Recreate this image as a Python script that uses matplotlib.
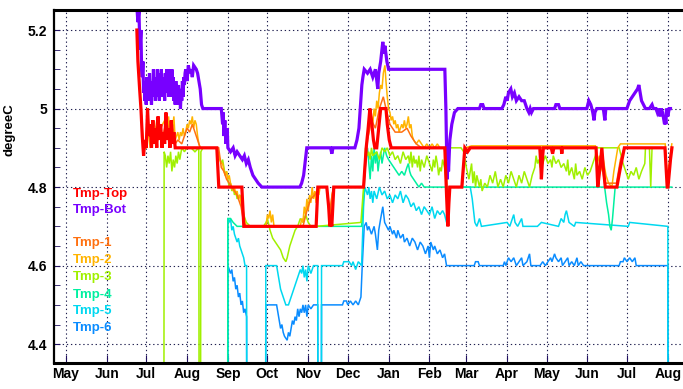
import pandas as pd
import matplotlib.pyplot as plt
import matplotlib.dates as mdates
from matplotlib.ticker import MultipleLocator

plt.rcParams['font.family'] = ['Liberation Sans', 'DejaVu Sans']
plt.rcParams['font.weight'] = 'bold'

start = pd.Timestamp('2008-05-01')

# Tage seit 2008-05-01 und Werte (degreeC)
bot_days = [53.9, 54.7, 55.5, 56.2, 57, 57.5, 58, 58.5, 59, 59.5,
            60, 60.5, 61, 61.5, 62, 62.5, 63, 63.5, 64, 64.5,
            65, 65.5, 66, 66.5, 67, 67.5, 68, 68.5, 69, 69.5,
            70, 70.5, 71, 71.5, 72, 72.5, 73, 73.5, 74, 74.5,
            75, 75.5, 76, 76.5, 77, 77.5, 78, 78.5, 79, 79.5,
            80, 80.5, 81, 81.5, 82, 82.5, 83, 83.5, 84, 84.5,
            85, 85.5, 86, 86.5, 87, 87.5, 88, 88.5, 89, 89.5,
            90, 90.5, 91, 92, 93, 94, 95, 96, 97, 99,
            100, 101, 102, 103, 104, 118, 119, 119.5, 120, 120.7,
            121.5, 122.5, 123, 125, 127, 128.5, 130, 132, 134, 135.5,
            137, 138.5, 140, 142, 144, 146, 148.8, 177.6, 179, 180.5,
            181.5, 182.9, 201, 201.9, 202.8, 219.4, 221, 222.5, 223.5, 224.7,
            225.5, 226.5, 229, 231, 233, 235, 236.8, 237.5, 239, 240,
            240.6, 241.5, 242.2, 243.7, 245, 287.7, 288.5, 289.2, 289.6, 290,
            290.5, 291.5, 293, 295, 297.6, 314, 315, 316.5, 317.5, 331,
            332.5, 334, 335, 336, 337.8, 339, 340.5, 342, 344, 346,
            348, 350, 351.5, 352.5, 353.5, 355, 371, 372, 374, 375,
            395.5, 397, 398.5, 399.3, 400, 401, 401.6, 403, 408, 409.2,
            409.9, 425.9, 428, 430, 432, 434, 435, 436, 437, 438.5,
            440, 443, 445, 446, 448, 449, 450, 451, 452, 453,
            454, 454.5, 455, 455.5, 456, 457, 458, 459]
bot_vals = [5.26, 5.22, 5.25, 5.15, 5.20, 5.10, 5.08, 5.12, 5.04, 5.07,
            5.02, 5.06, 5.01, 5.08, 5.03, 5.05, 5.02, 5.09, 5.03, 5.06,
            5.01, 5.07, 5.03, 5.10, 5.04, 5.08, 5.02, 5.06, 5.03, 5.10,
            5.04, 5.07, 5.02, 5.09, 5.05, 5.10, 5.03, 5.08, 5.04, 5.06,
            5.02, 5.09, 5.04, 5.10, 5.05, 5.08, 5.03, 5.10, 5.04, 5.07,
            5.03, 5.10, 5.05, 5.08, 5.02, 5.06, 5.01, 5.07, 5.03, 5.05,
            5.01, 5.06, 5.02, 5.05, 5.00, 5.04, 5.02, 5.07, 5.03, 5.08,
            5.06, 5.09, 5.10, 5.07, 5.11, 5.09, 5.10, 5.08, 5.11, 5.10,
            5.09, 5.07, 5.05, 5.01, 5.00, 5.00, 4.96, 4.99, 4.93, 4.97,
            4.91, 4.95, 4.90, 4.89, 4.90, 4.88, 4.89, 4.88, 4.87, 4.88,
            4.86, 4.87, 4.85, 4.83, 4.82, 4.81, 4.80, 4.80, 4.81, 4.83,
            4.86, 4.90, 4.90, 4.885, 4.90, 4.90, 4.92, 4.95, 5.00, 5.06,
            5.08, 5.10, 5.09, 5.10, 5.08, 5.10, 5.05, 5.09, 5.12, 5.15,
            5.17, 5.14, 5.16, 5.12, 5.10, 5.10, 5.00, 4.86, 4.82, 4.90,
            4.84, 4.92, 4.96, 4.99, 5.00, 5.00, 5.01, 5.01, 5.00, 5.00,
            5.01, 5.03, 5.02, 5.04, 5.05, 5.03, 5.04, 5.02, 5.03, 5.02,
            5.02, 5.00, 4.99, 5.00, 4.99, 5.00, 5.00, 5.01, 5.01, 5.00,
            5.00, 5.02, 5.01, 5.00, 4.99, 4.97, 4.99, 5.00, 5.00, 4.97,
            5.00, 5.00, 5.02, 5.03, 5.04, 5.05, 5.06, 5.04, 5.02, 5.01,
            5.00, 5.00, 5.01, 5.00, 5.00, 4.99, 5.00, 4.98, 5.00, 4.99,
            4.97, 4.96, 4.98, 4.96, 5.00, 4.98, 5.00, 5.00]

top_days = [53.9, 54.7, 56, 57, 58, 59, 60, 61, 62, 63, 64, 65, 66, 67, 68, 69, 70, 71, 72, 73, 74, 75,
            76, 77, 78, 79, 80, 81, 82, 83, 114.6, 116.1, 133.6, 135.1, 190, 191.3, 198.1, 199.5, 200.4,
            201, 201.9, 203.4, 226, 228, 229.5, 230.8, 232, 233.5, 234.6, 236, 237.5, 239, 243, 244,
            245.5, 247, 287.7, 289, 290, 290.8, 291.5, 300.6, 302.9, 305, 307, 359.8, 360.5, 361, 362,
            362.5, 368.5, 369.5, 370.5, 376, 376.5, 377, 402.5, 403.8, 405.5, 406.9, 408, 409.5, 418.3,
            421, 424, 454.8, 456.5, 457.1, 459, 460.1]
top_vals = [5.20, 5.12, 5.05, 5.00, 4.93, 4.88, 4.92, 4.90, 5.00, 4.93, 4.96, 4.90, 4.97, 4.91, 4.95,
            4.90, 4.98, 4.92, 4.96, 4.90, 4.94, 4.91, 4.99, 4.92, 4.95, 4.90, 4.97, 4.91, 4.94, 4.90,
            4.90, 4.80, 4.80, 4.70, 4.70, 4.80, 4.80, 4.75, 4.70, 4.72, 4.70, 4.80, 4.80, 4.90, 4.95,
            5.00, 4.97, 4.92, 4.90, 4.90, 4.95, 5.00, 5.00, 4.96, 4.92, 4.90, 4.90, 4.78, 4.70, 4.76,
            4.80, 4.80, 4.90, 4.89, 4.90, 4.90, 4.86, 4.82, 4.88, 4.90, 4.90, 4.885, 4.90, 4.90, 4.885,
            4.90, 4.90, 4.80, 4.85, 4.90, 4.85, 4.80, 4.80, 4.85, 4.90, 4.90, 4.80, 4.80, 4.87, 4.90]

t1_days = [53.9, 56, 58, 59, 61, 63, 65, 67, 69, 71, 73, 75, 77, 79, 81, 83, 85, 88, 90, 92, 94, 96, 98,
           100, 102, 116, 118, 120, 122, 124, 126, 130, 133, 135, 137, 180, 183, 186, 189, 192, 198, 200,
           203, 226, 229, 232, 235, 238, 241, 243, 246, 250, 255, 259, 262, 266, 270, 287.5, 289.5, 291,
           301, 303, 402.5, 404, 406, 409, 418, 421, 424, 455, 456.8, 459, 460]
t1_vals = [5.19, 5.06, 4.94, 4.89, 4.91, 4.96, 4.92, 4.97, 4.93, 4.96, 4.92, 4.95, 4.96, 4.93, 4.96,
           4.91, 4.92, 4.91, 4.93, 4.95, 4.94, 4.96, 4.94, 4.92, 4.90, 4.90, 4.85, 4.84, 4.82, 4.81, 4.80,
           4.78, 4.75, 4.71, 4.70, 4.70, 4.74, 4.77, 4.78, 4.80, 4.80, 4.73, 4.80, 4.80, 4.92, 4.97, 4.95,
           5.00, 5.03, 5.00, 4.96, 4.94, 4.94, 4.95, 4.93, 4.91, 4.90, 4.90, 4.75, 4.80, 4.80, 4.90, 4.90,
           4.82, 4.88, 4.81, 4.81, 4.87, 4.90, 4.90, 4.80, 4.88, 4.90]

t2_days = [53.9, 56, 58, 59, 61, 62, 64, 75, 76, 77, 78, 79, 80, 81, 82, 83, 84, 85, 86, 87, 88, 89, 90,
           91, 92, 93, 94, 95, 96, 97, 98, 99, 100, 101, 102, 115, 116, 117, 118, 119, 120, 121, 122,
           123, 124, 125, 126, 127, 128, 129, 130, 131, 132, 133, 134, 135, 136, 137, 152, 153, 154,
           155, 156, 157, 158, 178, 179, 180, 181, 182, 183, 184, 185, 186, 187, 188, 189, 190, 191,
           192, 193, 198, 199, 200.4, 202, 203.5, 226, 228, 229.5, 231, 232, 233, 234, 235, 236, 237,
           238, 239, 240, 241, 242.2, 243, 244, 245, 246, 247, 248, 249, 250, 251, 252, 253, 254, 255,
           256, 257, 258, 259, 260, 261, 262, 263, 264, 266, 268, 270, 272, 274, 276, 278, 280, 282,
           284, 287.5, 289, 290, 291, 292, 300.6, 303, 308, 402, 403.5, 405, 406, 408, 410, 412, 414.5,
           416, 418, 419, 421, 455, 456.5, 458, 460]
t2_vals = [5.18, 5.05, 4.95, 4.90, 4.90, 4.95, 4.90, 4.97, 4.99, 4.94, 4.98, 4.93, 4.96, 4.95, 4.98,
           4.92, 4.93, 4.94, 4.92, 4.94, 4.93, 4.95, 4.93, 4.94, 4.96, 4.95, 4.97, 4.96, 4.98, 4.95,
           4.97, 4.96, 4.93, 4.91, 4.90, 4.90, 4.88, 4.87, 4.86, 4.86, 4.84, 4.83, 4.84, 4.82, 4.83,
           4.81, 4.80, 4.79, 4.80, 4.78, 4.79, 4.77, 4.78, 4.76, 4.75, 4.73, 4.71, 4.70, 4.70, 4.73,
           4.72, 4.74, 4.71, 4.73, 4.70, 4.70, 4.72, 4.71, 4.75, 4.73, 4.77, 4.74, 4.78, 4.76, 4.80,
           4.77, 4.79, 4.76, 4.80, 4.78, 4.80, 4.80, 4.76, 4.72, 4.78, 4.80, 4.80, 4.90, 4.94, 4.97,
           4.98, 4.96, 5.00, 4.98, 5.02, 5.00, 5.04, 5.06, 5.05, 5.09, 5.11, 5.07, 5.03, 5.00, 4.99,
           4.97, 4.98, 4.96, 4.97, 4.95, 4.96, 4.94, 4.95, 4.96, 4.95, 4.97, 4.95, 4.96, 4.98, 4.95,
           4.96, 4.93, 4.92, 4.91, 4.92, 4.91, 4.90, 4.91, 4.90, 4.91, 4.90, 4.91, 4.90, 4.90, 4.80,
           4.72, 4.79, 4.80, 4.80, 4.90, 4.905, 4.905, 4.86, 4.88, 4.84, 4.87, 4.83, 4.81, 4.80, 4.84,
           4.88, 4.90, 4.91, 4.91, 4.81, 4.86, 4.91]

t3_days = [74.4, 74.6, 75.5, 76.5, 77.5, 78.5, 79.5, 80.5, 81.5, 82.5, 83.5, 84.5, 85.5, 86.5, 88, 90,
           92, 95, 98, 100.9, 101.2, 102.2, 102.5, 104, 114, 116, 118, 119, 120, 121, 122, 123, 124,
           125, 126, 127, 128, 129, 130, 132, 134, 135, 137, 140, 150, 152, 153, 155, 157, 159, 161,
           163, 165, 167, 168, 170, 172, 174, 176, 178, 180, 182, 184, 186, 190, 224, 226, 227.5, 229,
           230, 231, 232, 233, 236, 238, 240, 242, 244, 246, 248, 250, 252, 254, 256, 258, 260, 261,
           262, 263, 264, 265, 266, 267, 268, 269, 270, 272, 274, 276, 278, 279, 280, 281, 282, 283,
           284, 285, 286, 287.5, 289, 290, 300, 302, 304, 306, 308, 309, 310, 311, 312, 314, 315, 316,
           318, 320, 322, 324, 326, 328, 330, 332, 334, 336, 338, 340, 342, 344, 346, 348, 350, 352,
           354, 356, 357, 358, 359, 360, 362, 364, 366, 368, 369, 370, 372, 374, 376, 378, 380, 381,
           382, 384, 386, 387, 388, 390, 392, 394, 396, 398, 400, 402, 403, 420, 423, 425, 427, 429,
           431, 433, 435, 437, 439.5, 440, 443, 444, 445, 455, 456.5, 458, 460]
t3_vals = [4.00, 4.89, 4.88, 4.85, 4.88, 4.86, 4.89, 4.84, 4.87, 4.85, 4.88, 4.86, 4.89, 4.87, 4.90,
           4.89, 4.90, 4.90, 4.89, 4.90, 4.00, 4.00, 4.89, 4.90, 4.90, 4.88, 4.86, 4.87, 4.85, 4.83,
           4.84, 4.82, 4.80, 4.81, 4.79, 4.80, 4.78, 4.79, 4.77, 4.78, 4.76, 4.73, 4.71, 4.70, 4.70,
           4.71, 4.72, 4.69, 4.67, 4.66, 4.65, 4.64, 4.62, 4.61, 4.62, 4.65, 4.67, 4.69, 4.70, 4.72,
           4.71, 4.73, 4.71, 4.70, 4.70, 4.71, 4.80, 4.90, 4.88, 4.89, 4.87, 4.90, 4.88, 4.89, 4.87,
           4.90, 4.89, 4.90, 4.88, 4.89, 4.87, 4.88, 4.86, 4.89, 4.87, 4.88, 4.86, 4.89, 4.85, 4.88,
           4.86, 4.87, 4.85, 4.88, 4.84, 4.87, 4.85, 4.88, 4.86, 4.84, 4.87, 4.85, 4.88, 4.86, 4.83,
           4.85, 4.84, 4.87, 4.85, 4.80, 4.90, 4.90, 4.89, 4.85, 4.82, 4.86, 4.81, 4.84, 4.80, 4.83,
           4.80, 4.82, 4.79, 4.81, 4.80, 4.83, 4.81, 4.84, 4.80, 4.82, 4.80, 4.83, 4.81, 4.84, 4.82,
           4.80, 4.83, 4.81, 4.84, 4.82, 4.80, 4.83, 4.85, 4.88, 4.86, 4.87, 4.85, 4.86, 4.88, 4.86,
           4.87, 4.85, 4.88, 4.86, 4.87, 4.85, 4.86, 4.84, 4.87, 4.83, 4.85, 4.82, 4.86, 4.83, 4.84,
           4.82, 4.85, 4.83, 4.84, 4.86, 4.88, 4.90, 4.90, 4.86, 4.84, 4.82, 4.84, 4.83, 4.85, 4.82,
           4.84, 4.86, 4.90, 4.90, 4.80, 4.90, 4.90, 4.80, 4.85, 4.90]

t4_days = [122.8, 123, 125, 127, 130, 224.5, 226, 227.5, 229, 230, 231, 232, 233, 234, 235, 236, 237,
           238, 239, 240, 242, 243.5, 245, 247, 249, 251, 253, 255, 257, 258.9, 260, 261, 262, 264,
           266, 268, 270, 272, 274, 409, 410.5, 412, 413, 414, 415, 416, 417, 460]
t4_vals = [4.00, 4.72, 4.72, 4.71, 4.70, 4.70, 4.78, 4.86, 4.90, 4.86, 4.82, 4.88, 4.84, 4.90, 4.86,
           4.89, 4.84, 4.87, 4.89, 4.86, 4.90, 4.88, 4.87, 4.86, 4.85, 4.84, 4.83, 4.84, 4.83, 4.85,
           4.86, 4.84, 4.83, 4.82, 4.81, 4.80, 4.81, 4.80, 4.80, 4.80, 4.76, 4.73, 4.70, 4.69, 4.72,
           4.76, 4.80, 4.80]

t5_days = [122.8, 123, 124, 125, 126, 127, 128, 129, 130, 131, 132, 133, 134, 135, 136, 137.2, 137.4,
           151.6, 151.8, 160, 161, 162, 163, 165, 167, 169, 170, 172, 174, 176, 178, 179, 180, 181, 182,
           183, 184, 186, 188, 191.2, 191.4, 193.9, 194.1, 210, 211, 215, 217, 218, 220, 222, 224.5,
           226, 227, 228, 229, 230, 231, 232, 233, 234, 236, 238, 240, 242, 244, 246, 248, 250, 252,
           254, 256, 258, 260, 262, 264, 266, 268, 270, 272, 274, 276, 278, 280, 282, 284, 286, 287.5,
           289, 290, 307, 308.5, 309.5, 310.5, 312, 314, 315.5, 335, 337, 339, 340, 341, 343, 346, 347,
           358, 361, 374, 376, 378, 379, 380, 382, 386, 387, 427, 428, 457, 457.2]
t5_vals = [4.00, 4.72, 4.71, 4.72, 4.69, 4.70, 4.68, 4.67, 4.66, 4.67, 4.65, 4.64, 4.63, 4.62, 4.60,
           4.60, 4.00, 4.00, 4.60, 4.60, 4.58, 4.56, 4.54, 4.52, 4.50, 4.50, 4.51, 4.53, 4.55, 4.57,
           4.59, 4.58, 4.60, 4.57, 4.59, 4.56, 4.60, 4.58, 4.60, 4.60, 4.00, 4.00, 4.60, 4.60, 4.61,
           4.61, 4.60, 4.61, 4.59, 4.61, 4.60, 4.75, 4.80, 4.79, 4.78, 4.80, 4.77, 4.79, 4.76, 4.79,
           4.77, 4.80, 4.78, 4.79, 4.77, 4.78, 4.76, 4.78, 4.77, 4.79, 4.76, 4.78, 4.77, 4.75, 4.76,
           4.74, 4.75, 4.73, 4.75, 4.74, 4.73, 4.75, 4.72, 4.74, 4.73, 4.74, 4.73, 4.71, 4.80, 4.80,
           4.77, 4.74, 4.71, 4.70, 4.72, 4.70, 4.71, 4.70, 4.72, 4.73, 4.71, 4.70, 4.72, 4.70, 4.70,
           4.71, 4.70, 4.72, 4.71, 4.73, 4.74, 4.71, 4.70, 4.71, 4.70, 4.71, 4.70, 4.00]

t6_days = [122.8, 123, 124, 125, 126, 127, 128, 129, 130, 131, 132, 133, 134, 135, 136, 137.2, 137.4,
           151.6, 151.8, 160, 161, 162, 163, 164, 165, 166, 168, 169, 170, 171, 172, 173, 174, 175, 176,
           177, 178, 179, 180, 181, 182, 183, 184, 186, 188, 191.2, 191.4, 193.9, 194.1, 210, 211, 213,
           214, 216, 218, 220, 222, 224, 225, 226.5, 228, 229, 230, 232, 234, 235, 236.5, 237.5, 239,
           240.6, 242, 243.5, 245, 246, 248, 249, 251, 252, 254, 256, 257, 259, 261, 263, 265, 267, 269,
           271, 273, 275, 276, 277, 279, 280, 282, 284, 286, 287.5, 289, 310, 311, 313, 314, 332, 333,
           334, 336, 338, 340, 342, 344, 346, 347, 350, 352, 353, 360, 362, 364, 366, 368, 369, 371,
           372, 374, 376, 377, 379, 381, 382, 384, 386, 388, 389, 391, 393, 420, 421, 423, 424, 426,
           428, 430, 432, 433, 457, 457.2]
t6_vals = [4.00, 4.60, 4.59, 4.58, 4.59, 4.56, 4.57, 4.54, 4.55, 4.52, 4.53, 4.50, 4.51, 4.48, 4.49,
           4.47, 4.00, 4.00, 4.50, 4.50, 4.48, 4.46, 4.44, 4.45, 4.43, 4.42, 4.41, 4.43, 4.42, 4.44,
           4.46, 4.45, 4.47, 4.46, 4.49, 4.47, 4.49, 4.48, 4.50, 4.48, 4.50, 4.47, 4.50, 4.49, 4.50,
           4.50, 4.00, 4.00, 4.50, 4.50, 4.51, 4.51, 4.50, 4.51, 4.50, 4.51, 4.50, 4.52, 4.60, 4.70,
           4.71, 4.69, 4.70, 4.68, 4.70, 4.68, 4.64, 4.69, 4.72, 4.75, 4.71, 4.70, 4.69, 4.70, 4.68,
           4.69, 4.67, 4.69, 4.67, 4.68, 4.66, 4.67, 4.65, 4.67, 4.66, 4.64, 4.66, 4.65, 4.63, 4.65,
           4.62, 4.66, 4.64, 4.65, 4.63, 4.64, 4.62, 4.63, 4.60, 4.60, 4.61, 4.61, 4.60, 4.60, 4.61,
           4.60, 4.62, 4.61, 4.62, 4.60, 4.61, 4.62, 4.60, 4.61, 4.63, 4.60, 4.60, 4.61, 4.60, 4.61,
           4.62, 4.61, 4.63, 4.62, 4.61, 4.62, 4.60, 4.61, 4.62, 4.60, 4.61, 4.60, 4.62, 4.60, 4.61,
           4.60, 4.60, 4.61, 4.61, 4.62, 4.61, 4.62, 4.61, 4.62, 4.60, 4.60, 4.00]

series = [
    ("Tmp-6", t6_days, t6_vals, "#0a8cff", 1.1),
    ("Tmp-5", t5_days, t5_vals, "#00d8f0", 1.1),
    ("Tmp-4", t4_days, t4_vals, "#00f0a0", 1.1),
    ("Tmp-3", t3_days, t3_vals, "#a0f000", 1.1),
    ("Tmp-2", t2_days, t2_vals, "#ffb400", 1.1),
    ("Tmp-1", t1_days, t1_vals, "#ff7010", 1.1),
    ("Tmp-Bot", bot_days, bot_vals, "#7800ff", 2.3),
    ("Tmp-Top", top_days, top_vals, "#ff0000", 2.3),
]

fig = plt.figure(figsize=(6.83, 3.89), dpi=100)
ax = fig.add_axes([54 / 683, 26 / 389, 629 / 683, 353 / 389])

for name, d, v, col, lw in series:
    x = start + pd.to_timedelta(d, unit='D')
    ax.plot(x, v, color=col, lw=lw, solid_joinstyle='miter')

ax.set_xlim(start - pd.Timedelta(days=9), start + pd.Timedelta(days=468.5))
ax.set_ylim(4.352, 5.251)

ax.xaxis.set_major_locator(mdates.MonthLocator())
ax.xaxis.set_major_formatter(mdates.DateFormatter('%b'))
ax.yaxis.set_major_locator(MultipleLocator(0.2))
ax.yaxis.set_minor_locator(MultipleLocator(0.05))
ax.yaxis.set_major_formatter(plt.FuncFormatter(lambda v, p: f"{v:g}"))

ax.grid(True, which='major', color='#202050', linestyle=(0, (1.2, 2.5)), lw=0.8)
ax.tick_params(axis='both', which='both', direction='in', labelsize=10, color='#201060')
ax.tick_params(axis='y', which='both', length=4, pad=5)
ax.tick_params(axis='x', length=6, pad=3)
for lab in ax.get_xticklabels() + ax.get_yticklabels():
    lab.set_fontweight('bold')

ax.spines['right'].set_visible(False)
ax.spines['top'].set_linewidth(2.2)
ax.spines['bottom'].set_linewidth(2.2)
ax.spines['left'].set_linewidth(1.6)

ax.set_ylabel("degreeC", fontsize=9.5, fontweight='bold')
ax.yaxis.set_label_coords(-0.062, 0.66)

# Legende als farbige Texte
legend = [("Tmp-Top", "#ff0000", 194), ("Tmp-Bot", "#7800ff", 210),
          ("Tmp-1", "#ff7010", 243), ("Tmp-2", "#ffb400", 260), ("Tmp-3", "#a0f000", 277),
          ("Tmp-4", "#00f0a0", 295), ("Tmp-5", "#00d8f0", 311), ("Tmp-6", "#0a8cff", 328)]
for txt, col, ypx in legend:
    fig.text(73 / 683, 1 - ypx / 389, txt, color=col, fontsize=9.5, fontweight='bold',
             va='center', ha='left')

fig.savefig("out.png", dpi=100)
